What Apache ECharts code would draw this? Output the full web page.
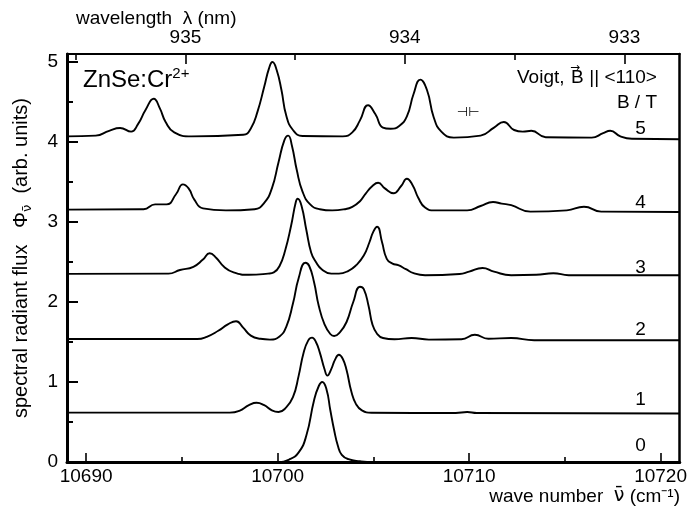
<!DOCTYPE html>
<html><head><meta charset="utf-8">
<script src="https://cdn.jsdelivr.net/npm/echarts@6/dist/echarts.min.js"></script>
<style>html,body{margin:0;padding:0;background:#fff}#c{width:690px;height:509px}</style>
</head><body><div id="c"></div>
<script>
// ---- axis ranges & ticks ----
const wnMin = 10689, wnMax = 10721;
const fluxMin = 0, fluxMax = 5.1;
const bottomTicks = [10690, 10700, 10710, 10720];
const bottomMinorTicks = [10695, 10705, 10715];
const topTickLabels = [935, 934, 933];          // wavelength (nm)
const topMinorTicks = [935.5, 934.5, 933.5];    // wavelength (nm)
const yTicks = [0, 1, 2, 3, 4, 5];
const yMinorTicks = [0.5, 1.5, 2.5, 3.5, 4.5];

// ---- spectra: [wave number (cm^-1), flux] ----
const spectrumB0 = [[10689,0],[10700,0],[10700.6,0.03],[10701.1,0.12],[10701.5,0.33],[10701.9,0.77],[10702.15,0.95],[10702.33,1.0],[10702.55,0.91],[10702.75,0.65],[10702.95,0.40],[10703.15,0.2],[10703.35,0.09],[10703.7,0.035],[10704.3,0.01],[10705,0],[10721,0]];
const spectrumB1 = [[10689,0.617],[10697.5,0.617],[10698.0,0.64],[10698.5,0.71],[10698.9,0.74],[10699.3,0.71],[10699.7,0.645],[10700.05,0.625],[10700.4,0.67],[10700.8,0.81],[10701.1,1.08],[10701.35,1.36],[10701.6,1.52],[10701.8,1.555],[10702.0,1.50],[10702.2,1.37],[10702.45,1.16],[10702.6,1.08],[10702.8,1.16],[10703.0,1.28],[10703.2,1.34],[10703.4,1.29],[10703.6,1.15],[10703.85,0.88],[10704.1,0.72],[10704.4,0.645],[10704.9,0.615],[10709.3,0.613],[10709.9,0.625],[10710.4,0.612],[10721,0.607]];
const spectrumB2 = [[10689,1.537],[10695.8,1.537],[10696.3,1.565],[10696.9,1.64],[10697.4,1.72],[10697.83,1.76],[10698.2,1.68],[10698.6,1.58],[10699.1,1.54],[10699.6,1.53],[10700.1,1.57],[10700.45,1.69],[10700.8,1.98],[10701.1,2.3],[10701.45,2.49],[10701.65,2.45],[10701.9,2.25],[10702.15,1.95],[10702.45,1.72],[10702.75,1.6],[10702.95,1.575],[10703.25,1.62],[10703.6,1.75],[10703.95,2.0],[10704.3,2.19],[10704.5,2.16],[10704.75,1.95],[10704.95,1.72],[10705.2,1.6],[10705.5,1.55],[10706.1,1.535],[10707.0,1.55],[10707.9,1.53],[10709.6,1.535],[10710.3,1.59],[10711.0,1.54],[10712.2,1.55],[10713.4,1.522],[10721,1.522]];
const spectrumB3 = [[10689,2.352],[10694.3,2.355],[10694.9,2.40],[10695.6,2.44],[10696.1,2.53],[10696.45,2.61],[10696.8,2.55],[10697.2,2.44],[10697.7,2.37],[10698.5,2.34],[10699.5,2.355],[10699.8,2.37],[10700.1,2.45],[10700.4,2.65],[10700.7,2.95],[10700.95,3.25],[10701.05,3.29],[10701.25,3.2],[10701.5,2.9],[10701.75,2.62],[10702.0,2.5],[10702.3,2.41],[10702.8,2.355],[10703.2,2.355],[10703.7,2.39],[10704.1,2.46],[10704.5,2.58],[10704.8,2.75],[10705.0,2.88],[10705.2,2.94],[10705.45,2.75],[10705.7,2.54],[10706.0,2.48],[10706.3,2.46],[10706.7,2.41],[10707.1,2.36],[10707.7,2.335],[10709.5,2.35],[10710.0,2.38],[10710.7,2.425],[10711.3,2.38],[10712.2,2.335],[10713.5,2.34],[10714.4,2.36],[10715.2,2.335],[10721,2.335]];
const spectrumB4 = [[10689,3.155],[10693.0,3.16],[10693.6,3.22],[10694.2,3.22],[10694.7,3.35],[10695.05,3.47],[10695.35,3.42],[10695.65,3.28],[10696.1,3.17],[10697.3,3.145],[10698.8,3.16],[10699.3,3.24],[10699.7,3.42],[10700.05,3.75],[10700.35,4.02],[10700.55,4.08],[10700.75,3.95],[10701.0,3.65],[10701.3,3.38],[10701.7,3.22],[10702.2,3.16],[10702.85,3.145],[10703.5,3.16],[10703.9,3.19],[10704.3,3.26],[10704.6,3.355],[10704.95,3.45],[10705.25,3.49],[10705.6,3.42],[10706.05,3.36],[10706.45,3.45],[10706.75,3.54],[10707.05,3.46],[10707.35,3.3],[10707.7,3.18],[10708.2,3.145],[10709.9,3.145],[10710.6,3.2],[10711.25,3.25],[10711.7,3.23],[10712.2,3.21],[10713.2,3.13],[10715.1,3.145],[10716.0,3.19],[10716.9,3.13],[10721,3.125]];
const spectrumB5 = [[10689,4.07],[10690.5,4.08],[10691.2,4.14],[10691.77,4.175],[10692.35,4.13],[10692.7,4.22],[10693.1,4.4],[10693.53,4.54],[10693.85,4.42],[10694.15,4.25],[10694.6,4.12],[10695.5,4.07],[10698.2,4.09],[10698.6,4.17],[10698.95,4.38],[10699.3,4.69],[10699.55,4.92],[10699.73,5.0],[10699.95,4.9],[10700.2,4.65],[10700.45,4.33],[10700.8,4.15],[10701.3,4.075],[10703.4,4.07],[10703.9,4.12],[10704.3,4.27],[10704.72,4.46],[10705.1,4.35],[10705.5,4.18],[10705.9,4.165],[10706.35,4.2],[10706.75,4.32],[10707.1,4.6],[10707.45,4.78],[10707.8,4.65],[10708.15,4.31],[10708.55,4.13],[10709.2,4.055],[10710.6,4.08],[10711.3,4.18],[10711.81,4.25],[10712.35,4.15],[10712.8,4.13],[10713.25,4.14],[10714.0,4.06],[10716.4,4.055],[10717.0,4.11],[10717.37,4.14],[10717.9,4.07],[10718.5,4.04],[10721,4.035]];
const spectra = [spectrumB0, spectrumB1, spectrumB2, spectrumB3, spectrumB4, spectrumB5];
const fieldLabels = ['0', '1', '2', '3', '4', '5'];   // B / T

// ---- layout (annotation placement, data units) ----
const fieldLabelX = 10718.95;
const fieldLabelY = [0.205, 0.784, 1.654, 2.428, 3.246, 4.161];

const FONT = '"Liberation Sans", Arial, Helvetica, sans-serif';
const BLACK = '#000';
const nmToWn = l => 1e7 / l;

const chart = echarts.init(document.getElementById('c'), null, {renderer: 'canvas'});

const baseX = {type: 'value', min: wnMin, max: wnMax, splitLine: {show: false}};
const baseY = {type: 'value', min: fluxMin, max: fluxMax, splitLine: {show: false}};

const option = {
  backgroundColor: '#fff',
  animation: false,
  grid: {left: 67, right: 8, top: 54, bottom: 47},
  xAxis: [
    Object.assign({}, baseX, {
      position: 'bottom',
      axisLine: {show: true, onZero: false, lineStyle: {color: BLACK, width: 3}},
      axisTick: {show: true, inside: true, length: 9, customValues: bottomTicks, lineStyle: {color: BLACK, width: 1.6}},
      axisLabel: {show: true, customValues: bottomTicks, color: BLACK, fontSize: 19, fontFamily: FONT, margin: 5,
        formatter: v => String(v)}
    }),
    Object.assign({}, baseX, {
      position: 'bottom',
      axisLine: {show: false, onZero: false},
      axisTick: {show: true, inside: true, length: 5, customValues: bottomMinorTicks, lineStyle: {color: BLACK, width: 1.6}},
      axisLabel: {show: false}
    }),
    Object.assign({}, baseX, {
      position: 'top',
      axisLine: {show: true, onZero: false, lineStyle: {color: BLACK, width: 2}},
      axisTick: {show: true, inside: true, length: 10, customValues: topTickLabels.map(nmToWn), lineStyle: {color: BLACK, width: 1.6}},
      axisLabel: {show: true, customValues: topTickLabels.map(nmToWn), color: BLACK, fontSize: 19, fontFamily: FONT, margin: 7,
        formatter: v => String(Math.round(1e7 / v))}
    }),
    Object.assign({}, baseX, {
      position: 'top',
      axisLine: {show: false, onZero: false},
      axisTick: {show: true, inside: true, length: 6, customValues: topMinorTicks.map(nmToWn), lineStyle: {color: BLACK, width: 1.6}},
      axisLabel: {show: false}
    })
  ],
  yAxis: [
    Object.assign({}, baseY, {
      position: 'left',
      axisLine: {show: true, onZero: false, lineStyle: {color: BLACK, width: 3}},
      axisTick: {show: true, inside: true, length: 11, customValues: yTicks, lineStyle: {color: BLACK, width: 2}},
      axisLabel: {show: true, customValues: yTicks, color: BLACK, fontSize: 19, fontFamily: FONT, margin: 9},
      name: '{a|spectral radiant flux   Φ}{s|ν̄}{a|  (arb. units)}',
      nameLocation: 'middle',
      nameGap: 33,
      nameTextStyle: {
        color: BLACK, fontSize: 20, fontFamily: FONT,
        rich: {
          a: {fontSize: 20, fontFamily: FONT, color: BLACK, lineHeight: 26},
          s: {fontSize: 13, fontFamily: '"DejaVu Sans", sans-serif', color: BLACK, lineHeight: 15, verticalAlign: 'bottom'}
        }
      }
    }),
    Object.assign({}, baseY, {
      position: 'left',
      axisLine: {show: false, onZero: false},
      axisTick: {show: true, inside: true, length: 6, customValues: yMinorTicks, lineStyle: {color: BLACK, width: 2}},
      axisLabel: {show: false}
    }),
    Object.assign({}, baseY, {
      position: 'right',
      axisLine: {show: true, onZero: false, lineStyle: {color: BLACK, width: 2.5}},
      axisTick: {show: false},
      axisLabel: {show: false}
    })
  ],
  series: spectra.map((d, i) => ({
    name: 'B = ' + fieldLabels[i] + ' T',
    type: 'line',
    xAxisIndex: 0,
    yAxisIndex: 0,
    data: d,
    smooth: 0.5,
    symbol: 'none',
    lineStyle: {color: BLACK, width: 1.9},
    z: 3
  })).concat([{
    type: 'scatter',
    xAxisIndex: 0,
    yAxisIndex: 0,
    symbolSize: 0,
    itemStyle: {opacity: 1},
    data: fieldLabels.map((t, i) => [fieldLabelX, fieldLabelY[i], t]),
    label: {show: true, position: 'inside', formatter: p => p.data[2], color: BLACK, fontSize: 19, fontFamily: FONT,
      textBorderWidth: 0, textBorderColor: 'transparent'},
    silent: true,
    z: 4
  }]),
  graphic: [
    {type: 'text', left: 76, top: 9, style: {text: 'wavelength  λ (nm)', fill: BLACK, font: '19px ' + FONT}},
    {type: 'text', right: 10, top: 487, style: {
      text: '{a|wave number  }{v|ν̄}{a| (cm⁻¹)}',
      rich: {
        a: {fontSize: 19, fontFamily: FONT, fill: BLACK},
        v: {fontSize: 19, fontFamily: '"DejaVu Sans", sans-serif', fill: BLACK}
      }
    }},
    {type: 'text', left: 83, top: 66, style: {
      text: '{m|ZnSe:Cr}{s|2+}',
      rich: {
        m: {fontSize: 24, fontFamily: FONT, fill: BLACK, lineHeight: 28},
        s: {fontSize: 15, fontFamily: FONT, fill: BLACK, lineHeight: 16, verticalAlign: 'top'}
      }
    }},
    {type: 'group', left: 517, top: 62, children: [
      {type: 'text', x: 0, y: 4, style: {text: 'Voigt, ', fill: BLACK, font: '19px ' + FONT}},
      {type: 'text', x: 54, y: 4, style: {text: 'B', fill: BLACK, font: '19px ' + FONT}},
      {type: 'text', x: 53, y: -2, style: {text: '→', fill: BLACK, font: '12px "DejaVu Sans", sans-serif'}},
      {type: 'text', x: 67, y: 4, style: {text: ' || <110>', fill: BLACK, font: '19px ' + FONT}}
    ]},
    {type: 'text', right: 33, top: 93, style: {text: 'B / T', fill: BLACK, font: '19px ' + FONT}},
    {type: 'text', left: 457, top: 106, style: {text: '⊣⊢', fill: BLACK, font: '13px "DejaVu Sans", sans-serif'}}
  ]
};
chart.setOption(option);
</script>
</body></html>
